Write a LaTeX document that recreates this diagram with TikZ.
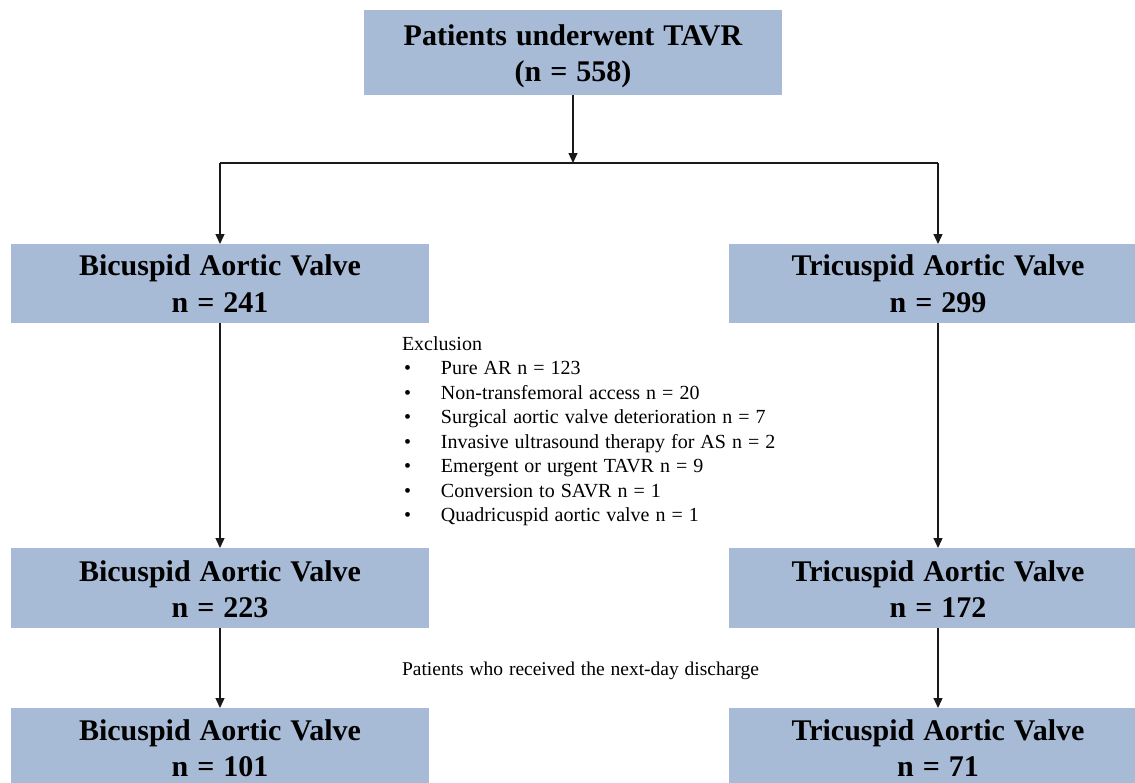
\documentclass[tikz,border=0pt]{standalone}
\usepackage{fontspec}
\setmainfont[WordSpace={1.2}]{Liberation Serif}
\usetikzlibrary{arrows.meta}
\definecolor{boxblue}{RGB}{168,187,214}
\tikzset{
  flowbox/.style={fill=boxblue, draw=none, minimum width=418pt, minimum height=80pt,
    inner sep=0pt, outer sep=0pt, align=center,
    font=\fontsize{30}{36.5}\selectfont\bfseries},
  conn/.style={line width=1.3pt, draw=black!90},
  arr/.style={conn, -{Triangle[length=10pt,width=9pt]}},
  plain/.style={inner sep=0pt, outer sep=0pt, font=\fontsize{20}{24.5}\selectfont}
}
\begin{document}
\begin{tikzpicture}[x=1pt,y=-1pt]
\useasboundingbox (0,0) rectangle (1135,782);
\clip (0,0) rectangle (1135,782);
\node[flowbox, minimum height=85pt] (top) at (573,52.5) {\rule{0pt}{28pt}Patients underwent TAVR\\(n = 558)};
\node[flowbox, minimum height=79pt] (bav1) at (220,283.5) {Bicuspid Aortic Valve\\n = 241};
\node[flowbox, minimum height=79pt] (tav1) at (938,283.5) {Tricuspid Aortic Valve\\n = 299};
\node[flowbox] (bav2) at (220,588) {\rule{0pt}{23pt}Bicuspid Aortic Valve\\n = 223};
\node[flowbox] (tav2) at (938,588) {\rule{0pt}{23pt}Tricuspid Aortic Valve\\n = 172};
\node[flowbox] (bav3) at (220,748) {Bicuspid Aortic Valve\\n = 101};
\node[flowbox] (tav3) at (938,748) {Tricuspid Aortic Valve\\n = 71};

\coordinate (j) at (573,163);
\coordinate (jl) at (bav1.north |- j);
\coordinate (jr) at (tav1.north |- j);
\draw[arr] (top.south) -- (j);
\draw[conn] (jl) -- (jr);
\draw[arr] (jl) -- (bav1.north);
\draw[arr] (jr) -- (tav1.north);
\draw[arr] (bav1.south) -- (bav2.north);
\draw[arr] (tav1.south) -- (tav2.north);
\draw[arr] (bav2.south) -- (bav3.north);
\draw[arr] (tav2.south) -- (tav3.north);

\node[plain, anchor=base west] (excl) at (402,350) {%
\begin{tabular}[t]{@{}p{39pt}@{}l@{}}
\multicolumn{2}{@{}l@{}}{Exclusion}\\
\hspace*{2pt}•& Pure AR n = 123\\
\hspace*{2pt}•& Non-transfemoral access n = 20\\
\hspace*{2pt}•& Surgical aortic valve deterioration n = 7\\
\hspace*{2pt}•& Invasive ultrasound therapy for AS n = 2\\
\hspace*{2pt}•& Emergent or urgent TAVR n = 9\\
\hspace*{2pt}•& Conversion to SAVR n = 1\\
\hspace*{2pt}•& Quadricuspid aortic valve n = 1
\end{tabular}};
\node[plain, anchor=base west, font=\fontsize{19.5}{22}\selectfont] (disch) at (402,675) {Patients who received the next-day discharge};
\end{tikzpicture}
\end{document}
